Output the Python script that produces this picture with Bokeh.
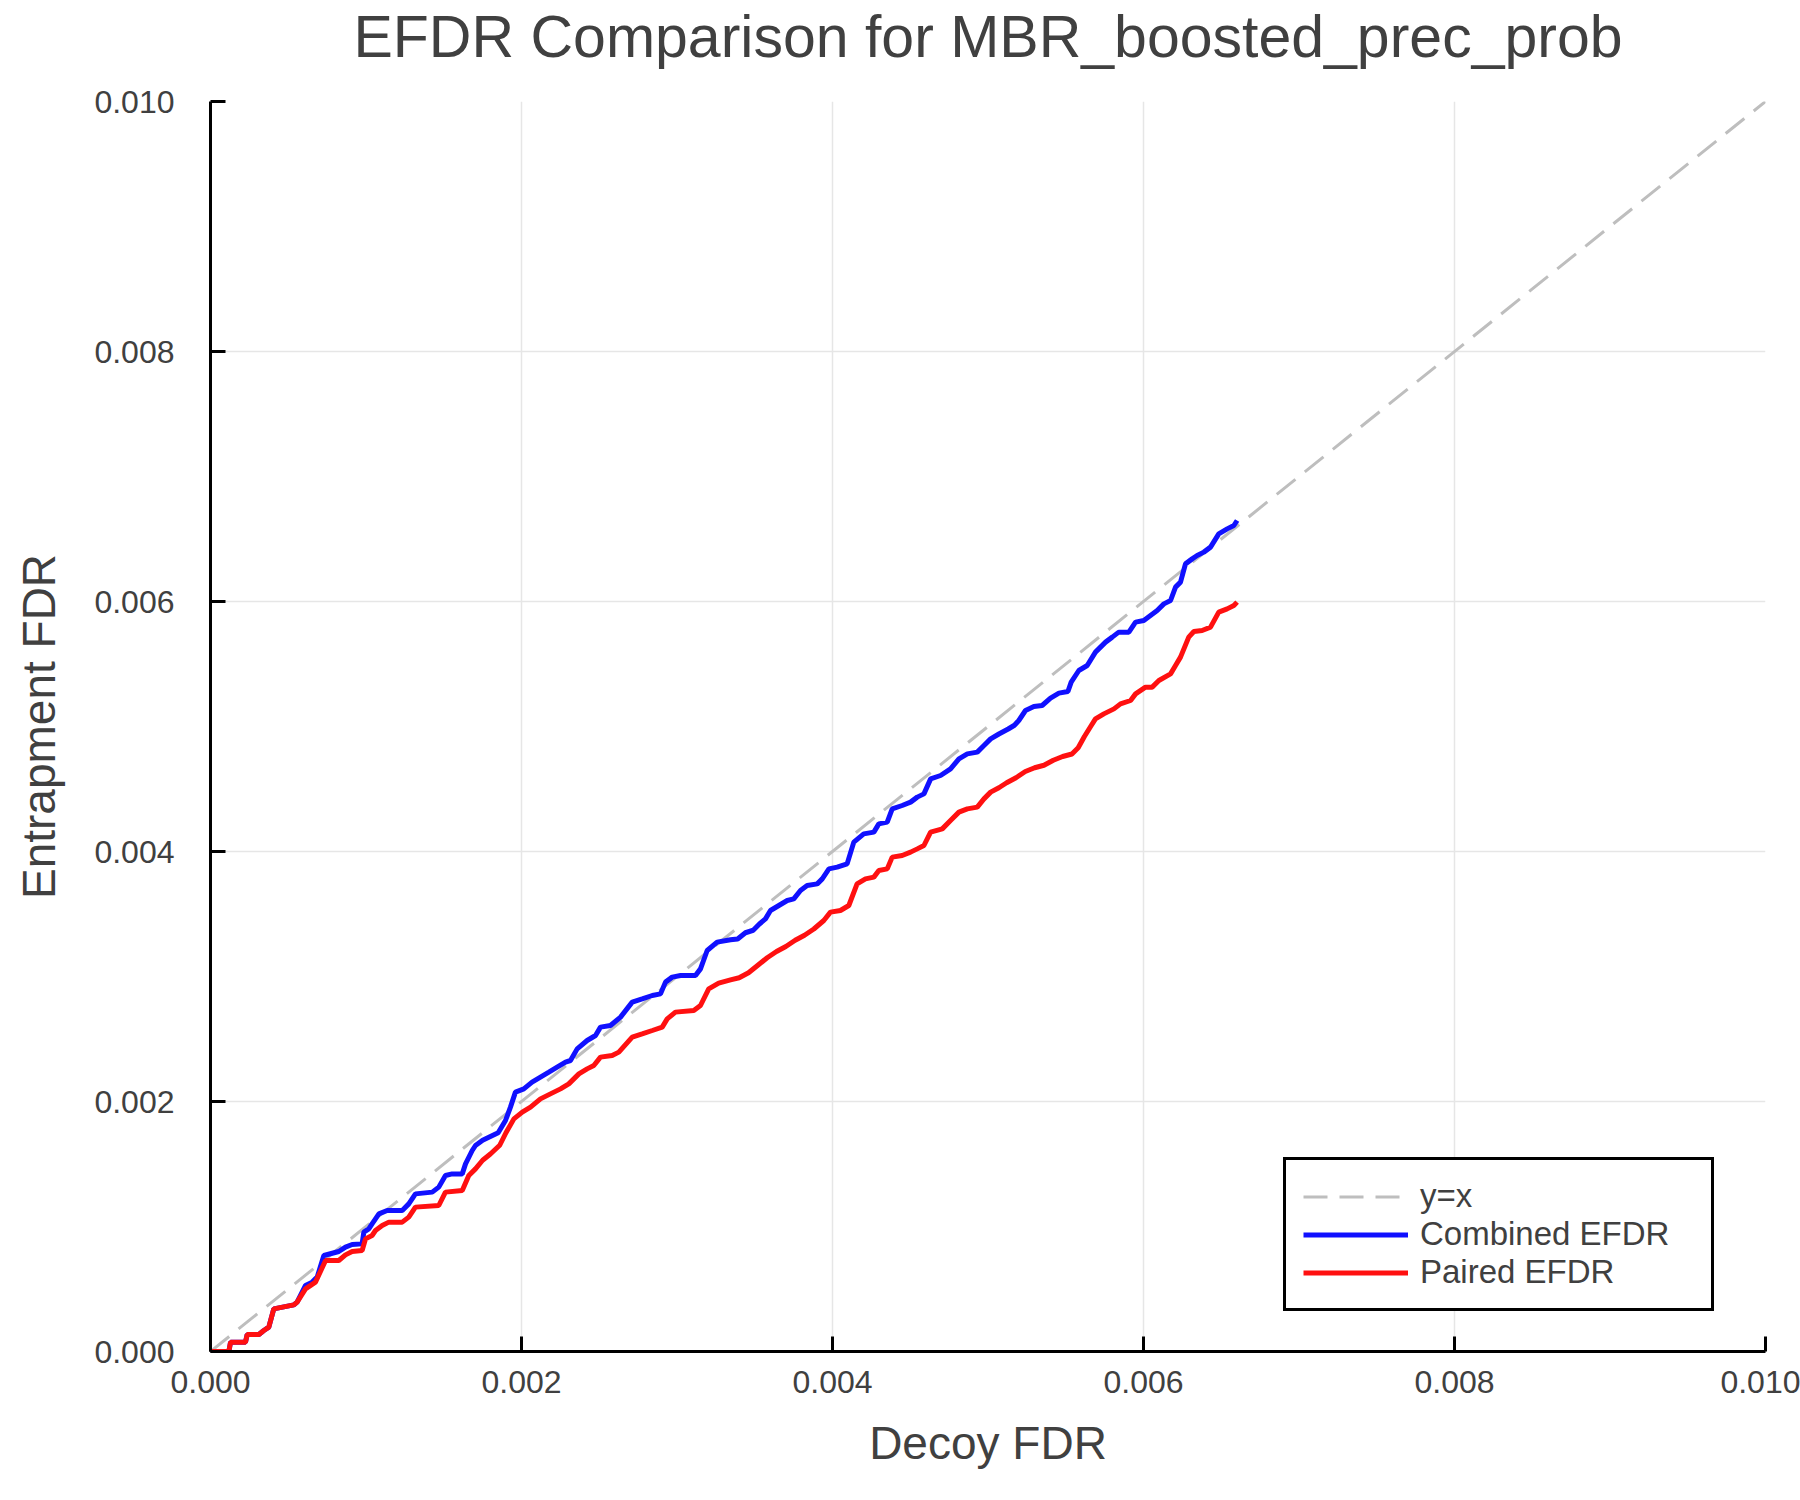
from bokeh.plotting import figure
from bokeh.models import Range1d, FixedTicker, PrintfTickFormatter, Title
from bokeh.embed import file_html
from bokeh.resources import INLINE
import numpy as np

# values are in units of 1e-4 (FDR)
combined_x = [0, 1.18, 1.29, 2.25, 2.36, 3.11, 3.43, 3.75, 4.07, 5.36, 5.57,
              6.11, 6.54, 6.86, 7.29, 8.25, 8.68, 9.11, 9.75, 9.86, 10.18, 10.39,
              10.83, 11.36, 12.33, 12.75, 13.18, 14.26, 14.68, 15.11, 15.54, 16.19,
              16.40, 16.83, 17.04, 17.5, 18.0, 18.5, 18.97, 19.29, 19.61, 20.15,
              20.68, 21.22, 21.76, 22.29, 22.83, 23.15, 23.58, 24.22, 24.76, 25.08,
              25.72, 26.37, 27.12, 27.76, 28.41, 28.94, 29.26, 29.69, 30.23, 31.19,
              31.51, 31.94, 32.58, 33.44, 33.9, 34.4, 34.9, 35.3, 35.69, 36.01,
              36.55, 37.09, 37.51, 37.94, 38.37, 39.02, 39.34, 39.77, 40.30, 40.94,
              41.37, 42.01, 42.66, 42.98, 43.52, 43.84, 44.48, 45.02, 45.45, 45.88,
              46.31, 46.95, 47.59, 48.13, 48.67, 49.31, 49.74, 50.17, 50.7, 51.3,
              51.7, 51.98, 52.41, 52.95, 53.48, 54.02, 54.56, 55.14, 55.35, 55.84,
              56.38, 56.91, 57.56, 57.99, 58.41, 59.06, 59.49, 60.02, 60.45, 60.88,
              61.31, 61.74, 62.06, 62.38, 62.7, 63.13, 63.45, 63.88, 64.31, 64.84,
              65.38, 65.81, 66.02]
combined_y = [0, 0.0, 0.75, 0.75, 1.36, 1.36, 1.68, 1.95, 3.41, 3.73, 3.95,
              5.28, 5.55, 5.95, 7.68, 8.0, 8.35, 8.56, 8.61, 9.55, 9.81, 10.21,
              11.01, 11.28, 11.28, 11.81, 12.61, 12.75, 13.15, 14.08, 14.21, 14.21,
              15.01, 16.08, 16.48, 16.9, 17.2, 17.5, 18.48, 19.55, 20.75, 21.01,
              21.55, 21.95, 22.35, 22.75, 23.15, 23.28, 24.21, 24.88, 25.28, 25.95,
              26.08, 26.75, 27.95, 28.21, 28.48, 28.61, 29.55, 29.95, 30.08, 30.08,
              30.61, 32.08, 32.75, 32.94, 33.0, 33.5, 33.7, 34.2, 34.61, 35.28,
              35.68, 36.08, 36.21, 36.88, 37.28, 37.41, 37.81, 38.61, 38.75, 39.01,
              40.75, 41.41, 41.55, 42.21, 42.35, 43.41, 43.68, 43.95, 44.35, 44.61,
              45.81, 46.08, 46.61, 47.41, 47.81, 47.95, 48.48, 49.01, 49.4, 49.8,
              50.1, 50.48, 51.28, 51.6, 51.68, 52.27, 52.67, 52.8, 53.55, 54.48,
              54.88, 55.95, 56.75, 57.15, 57.55, 57.55, 58.35, 58.48, 58.88, 59.28,
              59.81, 60.08, 61.15, 61.55, 63.01, 63.41, 63.68, 63.95, 64.35, 65.41,
              65.81, 66.08, 66.48]

paired_x = [0, 1.18, 1.29, 2.25, 2.36, 3.11, 3.43, 3.75, 4.07, 5.36, 5.57,
            6.11, 6.75, 7.40, 8.25, 8.68, 9.11, 9.75, 9.97, 10.39, 10.61, 11.04,
            11.47, 12.33, 12.75, 13.18, 14.68, 15.11, 16.19, 16.61, 17.04, 17.5,
            18.0, 18.6, 19.0, 19.51, 20.05, 20.58, 21.22, 21.86, 22.51, 23.04,
            23.69, 24.22, 24.65, 25.08, 25.83, 26.26, 27.12, 27.76, 28.41, 29.05,
            29.37, 29.90, 31.08, 31.51, 32.04, 32.68, 33.44, 34.0, 34.6, 35.2,
            35.8, 36.4, 37.0, 37.6, 38.2, 38.8, 39.44, 39.87, 40.51, 41.05, 41.58,
            42.12, 42.66, 42.98, 43.52, 43.84, 44.48, 45.02, 45.45, 45.88, 46.31,
            47.06, 47.59, 48.13, 48.67, 49.31, 49.74, 50.17, 50.7, 51.2, 51.8,
            52.4, 53.0, 53.6, 54.2, 54.8, 55.4, 55.8, 56.2, 56.6, 56.91, 57.45,
            58.1, 58.52, 59.17, 59.49, 60.13, 60.56, 60.99, 61.74, 62.06, 62.38,
            62.91, 63.24, 63.77, 64.31, 64.84, 65.38, 65.81, 66.02]
paired_y = [0, 0.0, 0.75, 0.75, 1.36, 1.36, 1.68, 1.95, 3.41, 3.73, 3.95,
            5.01, 5.55, 7.28, 7.28, 7.73, 8.0, 8.08, 9.01, 9.28, 9.68, 10.08,
            10.35, 10.35, 10.75, 11.55, 11.68, 12.75, 12.88, 14.08, 14.61, 15.3,
            15.8, 16.5, 17.5, 18.61, 19.15, 19.55, 20.21, 20.61, 21.01, 21.41,
            22.21, 22.61, 22.88, 23.55, 23.68, 23.95, 25.15, 25.41, 25.68, 25.95,
            26.61, 27.15, 27.28, 27.68, 29.01, 29.47, 29.73, 29.9, 30.3, 30.9,
            31.5, 32.0, 32.4, 32.9, 33.3, 33.8, 34.48, 35.15, 35.28, 35.68, 37.41,
            37.81, 37.95, 38.48, 38.61, 39.55, 39.68, 39.95, 40.21, 40.48, 41.55,
            41.81, 42.48, 43.15, 43.41, 43.55, 44.21, 44.75, 45.1, 45.5, 45.9,
            46.4, 46.7, 46.9, 47.3, 47.6, 47.8, 48.3, 49.2, 50.0, 50.61, 51.01,
            51.41, 51.81, 52.08, 52.61, 53.15, 53.15, 53.68, 54.21, 54.88, 55.55,
            57.15, 57.6, 57.68, 57.95, 59.15, 59.41, 59.68, 59.95]

diag = [0.0, 0.010]
ticks = [0.000, 0.002, 0.004, 0.006, 0.008, 0.010]
title_text = "EFDR Comparison for MBR_boosted_prec_prob"

TEXT = "#404040"
FONT = "Liberation Sans"

p = figure(x_axis_label="Decoy FDR", y_axis_label="Entrapment FDR",
           frame_width=1555, frame_height=1250,
           min_border_left=210, min_border_right=35,
           min_border_top=101, min_border_bottom=149,
           x_range=Range1d(0, 0.010), y_range=Range1d(0, 0.010),
           output_backend="svg", toolbar_location=None)

p.line(diag, diag, color="#bebebe", line_width=3, line_dash="24 12", legend_label="y=x")
p.line(np.array(combined_x) * 1e-4, np.array(combined_y) * 1e-4,
       color="#1010ff", line_width=5, legend_label="Combined EFDR")
p.line(np.array(paired_x) * 1e-4, np.array(paired_y) * 1e-4,
       color="#ff1010", line_width=5, legend_label="Paired EFDR")

# empty spacer between title and frame, so the title sits near the top
p.add_layout(Title(text=" ", text_font_size="1px", standoff=29), "above")

p.title.text = title_text
p.title.align = "center"
p.title.vertical_align = "bottom"
p.title.standoff = 0
p.title.text_font = FONT
p.title.text_font_size = "59px"
p.title.text_font_style = "normal"
p.title.text_color = TEXT

# axes
for ax in (p.xaxis, p.yaxis):
    ax.ticker = FixedTicker(ticks=ticks)
    ax.formatter = PrintfTickFormatter(format="%.3f")
    ax.axis_line_color = "black"
    ax.axis_line_width = 3
    ax.major_tick_line_color = "black"
    ax.major_tick_line_width = 3
    ax.major_tick_in = 15
    ax.major_tick_out = 0
    ax.minor_tick_line_color = None
    ax.major_label_text_font = FONT
    ax.major_label_text_font_size = "32px"
    ax.major_label_text_color = TEXT
    ax.axis_label_text_font = FONT
    ax.axis_label_text_font_size = "46px"
    ax.axis_label_text_font_style = "normal"
    ax.axis_label_text_color = TEXT

p.xaxis.major_label_standoff = 19
p.xaxis.axis_label_standoff = 21
p.yaxis.major_label_standoff = 36
p.yaxis.axis_label_standoff = 26

p.grid.grid_line_color = "#e6e6e6"
p.grid.grid_line_width = 1.5
p.outline_line_color = None
p.background_fill_color = "white"
p.border_fill_color = "white"

# legend
lg = p.legend[0]
lg.location = (1073, 40)
lg.margin = 0
lg.padding = 17
lg.spacing = 0
lg.glyph_width = 105
lg.glyph_height = 37
lg.label_height = 37
lg.label_width = 274
lg.label_standoff = 12
lg.label_text_font = FONT
lg.label_text_font_size = "33px"
lg.label_text_color = TEXT
lg.border_line_color = "black"
lg.border_line_alpha = 1.0
lg.border_line_width = 3
lg.background_fill_color = "white"
lg.background_fill_alpha = 1.0

open("out.html", "w").write(file_html(p, INLINE))
